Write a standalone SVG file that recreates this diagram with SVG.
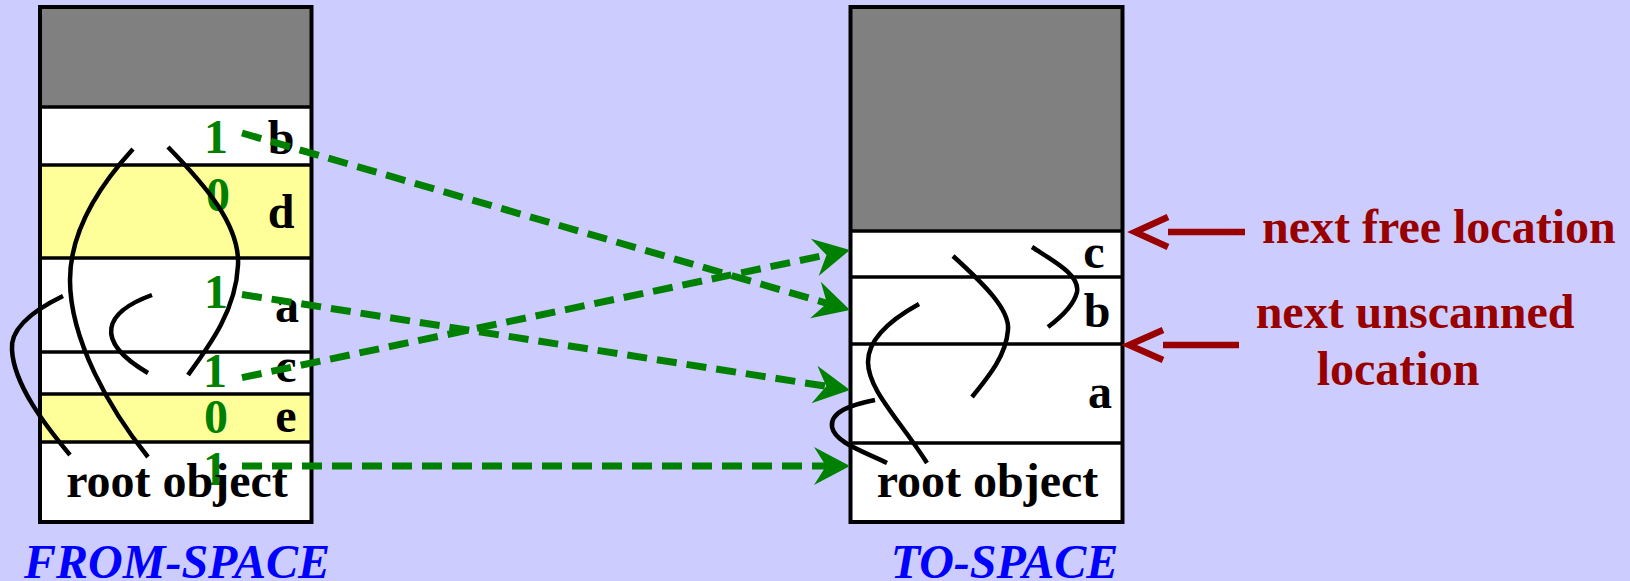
<svg xmlns="http://www.w3.org/2000/svg" width="1630" height="581" viewBox="0 0 1630 581">
<style>
.lbl{font-family:"Liberation Serif","Times New Roman",serif;font-weight:bold;font-size:48px;fill:#000}
.num{font-family:"Liberation Serif","Times New Roman",serif;font-weight:bold;font-size:48px;fill:#008000;text-anchor:middle}
.ttl{font-family:"Liberation Serif","Times New Roman",serif;font-weight:bold;font-style:italic;font-size:48px;fill:#0000ff}
.note{font-family:"Liberation Serif","Times New Roman",serif;font-weight:bold;font-size:48px;fill:#990000}
.box{stroke:#000;stroke-width:4}
.div{stroke:#000;stroke-width:3.5}
.ptr{fill:none;stroke:#000;stroke-width:4.5}
.fwd{fill:none;stroke:#008000;stroke-width:7;stroke-dasharray:20 10}
.red{fill:none;stroke:#990000;stroke-width:6.5}
</style>
<defs>
<marker id="ah" markerUnits="userSpaceOnUse" viewBox="-14 -21 40 42" markerWidth="40" markerHeight="42" refX="0" refY="0" orient="auto">
<path d="M24,0 L-12,-19 L0,0 L-12,19 Z" fill="#008000"/>
</marker>
</defs>
<rect width="1630" height="581" fill="#ccccff"/>

<g id="from-space">
<rect x="40" y="7" width="271.5" height="100" fill="#808080"/>
<rect x="40" y="107" width="271.5" height="58" fill="#fff"/>
<rect x="40" y="165" width="271.5" height="93" fill="#ffff99"/>
<rect x="40" y="258" width="271.5" height="136" fill="#fff"/>
<rect x="40" y="394" width="271.5" height="48" fill="#ffff99"/>
<rect x="40" y="442" width="271.5" height="80" fill="#fff"/>
<line class="div" x1="40" y1="107" x2="311.5" y2="107"/>
<line class="div" x1="40" y1="165" x2="311.5" y2="165"/>
<line class="div" x1="40" y1="258" x2="311.5" y2="258"/>
<line class="div" x1="40" y1="352" x2="311.5" y2="352"/>
<line class="div" x1="40" y1="394" x2="311.5" y2="394"/>
<line class="div" x1="40" y1="442" x2="311.5" y2="442"/>
<rect class="box" x="40" y="7" width="271.5" height="515" fill="none"/>
<text class="lbl" x="281" y="154" text-anchor="middle">b</text>
<text class="lbl" x="281" y="228" text-anchor="middle">d</text>
<text class="lbl" x="287" y="322" text-anchor="middle">a</text>
<text class="lbl" x="286" y="382" text-anchor="middle">c</text>
<text class="lbl" x="286" y="432" text-anchor="middle">e</text>
<text class="num" x="216" y="153">1</text>
<text class="num" x="218" y="211">0</text>
<text class="num" x="216" y="308">1</text>
<text class="num" x="215" y="387">1</text>
<text class="num" x="216" y="433">0</text>
<text class="num" x="215" y="485">1</text>
<text class="lbl" x="177" y="497" text-anchor="middle">root object</text>
<path class="ptr" d="M133,149 C100,185 70,230 70,280 C70,340 110,410 148,457"/>
<path class="ptr" d="M168,147 C205,185 240,225 238,265 C236,310 210,345 188,375"/>
<path class="ptr" d="M152,295 C105,312 92,340 148,373"/>
<path class="ptr" d="M63,296 C30,312 10,330 12,350 C14,385 45,425 70,455"/>
<text class="ttl" x="177" y="578" text-anchor="middle">FROM-SPACE</text>
</g>

<g id="to-space">
<rect x="850.5" y="7" width="272" height="224" fill="#808080"/>
<rect x="850.5" y="231" width="272" height="291" fill="#fff"/>
<line class="div" x1="850.5" y1="231" x2="1122.5" y2="231"/>
<line class="div" x1="850.5" y1="277" x2="1122.5" y2="277"/>
<line class="div" x1="850.5" y1="344" x2="1122.5" y2="344"/>
<line class="div" x1="850.5" y1="443" x2="1122.5" y2="443"/>
<rect class="box" x="850.5" y="7" width="272" height="515" fill="none"/>
<text class="lbl" x="1094" y="268" text-anchor="middle">c</text>
<text class="lbl" x="1097" y="327" text-anchor="middle">b</text>
<text class="lbl" x="1100" y="408" text-anchor="middle">a</text>
<text class="lbl" x="987.5" y="497" text-anchor="middle">root object</text>
<path class="ptr" d="M953,256 C985,285 1010,310 1008,330 C1006,355 990,375 972,397"/>
<path class="ptr" d="M1032,247 C1055,262 1080,275 1077,292 C1074,305 1060,318 1048,327"/>
<path class="ptr" d="M919,304 C890,320 868,340 868,362 C868,390 900,420 927,463"/>
<path class="ptr" d="M875,400 C850,405 830,412 832,427 C835,442 860,450 887,463"/>
<text class="ttl" x="1004.5" y="578" text-anchor="middle">TO-SPACE</text>
</g>

<g id="pointers">
<path class="red" d="M1168,217 L1135,232 L1168,247 M1168,232 H1245"/>
<text class="note" x="1262" y="243">next free location</text>
<path class="red" d="M1163,330 L1129,345 L1163,360 M1163,345 H1239"/>
<text class="note" x="1415" y="328" text-anchor="middle">next unscanned</text>
<text class="note" x="1398" y="385" text-anchor="middle">location</text>
</g>

<g id="connectors">
<line class="fwd" x1="242" y1="133" x2="827" y2="303.3" marker-end="url(#ah)"/>
<line class="fwd" x1="242" y1="294.5" x2="826.3" y2="386.3" marker-end="url(#ah)"/>
<line class="fwd" x1="242" y1="377.6" x2="826.5" y2="254.9" marker-end="url(#ah)"/>
<line class="fwd" x1="242" y1="466" x2="826" y2="466" marker-end="url(#ah)"/>
</g>
</svg>
